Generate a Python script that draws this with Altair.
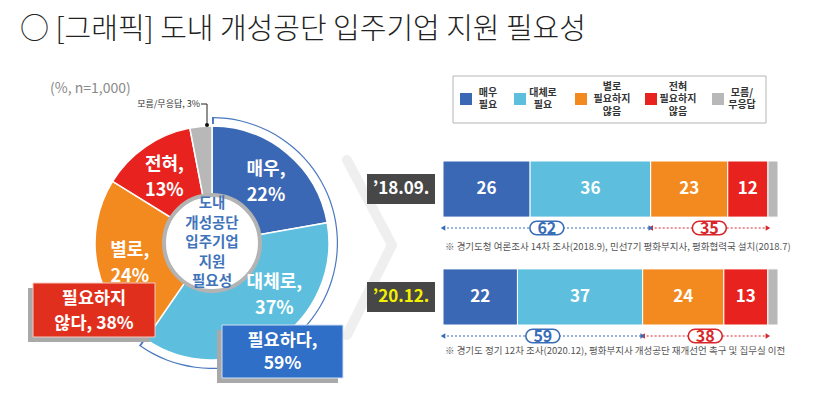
import altair as alt
import pandas as pd
import math

FONT = "Noto Sans CJK KR"

title_text = "○ [그래픽] 도내 개성공단 입주기업 지원 필요성"
sample_note = "(%, n=1,000)"
center_text = "도내\n개성공단\n입주기업\n지원\n필요성"

# donut (2020.12)
donut_cats = ["매우", "대체로", "별로", "전혀", "모름/무응답"]
donut_vals = [22, 37, 24, 13, 3]
need_total = 59
noneed_total = 38

# bars
periods = ["’18.09.", "’20.12."]
bar_cats = ["매우 필요", "대체로 필요", "별로 필요하지 않음", "전혀 필요하지 않음", "모름/무응답"]
vals_1809 = [26, 36, 23, 12, 3]
vals_2012 = [22, 37, 24, 13, 3]
need_sums = [62, 59]
noneed_sums = [35, 38]
legend_labels = ["매우\n필요", "대체로\n필요", "별로\n필요하지\n않음", "전혀\n필요하지\n않음", "모름/\n무응답"]
notes = [
    "※ 경기도청 여론조사 14차 조사(2018.9), 민선7기 평화부지사, 평화협력국 설치(2018.7)",
    "※ 경기도 정기 12차 조사(2020.12), 평화부지사 개성공단 재개선언 촉구 및 집무실 이전",
]

colors = ["#3b68b4", "#5dbfdd", "#f28a20", "#e8231f", "#b8b8b8"]
BLUE = "#3a6db8"
RED = "#d8262a"

# ---------- tables ----------
dtotal = sum(donut_vals)
rows = []
acc = 0
for i, (c, v) in enumerate(zip(donut_cats, donut_vals)):
    rows.append(dict(cat=c, val=v, start=acc, end=acc + v, mid=acc + v / 2,
                     label=f"{c},\n{v}%", i=i))
    acc += v
donut_df = pd.DataFrame(rows)
label_main = donut_df[donut_df["cat"].isin(["매우", "별로", "전혀"])]
label_side = donut_df[donut_df["cat"] == "대체로"]
gray_df = donut_df[donut_df["cat"] == "모름/무응답"].assign(txt=lambda d: d["cat"] + ", " + d["val"].astype(str) + "%")
span_df = pd.DataFrame({"s": [0], "e": [need_total]})
tick_df = pd.DataFrame({"s": [0, need_total]})

brows = []
arows = []
for p, vals, ns, nn in zip(periods, [vals_1809, vals_2012], need_sums, noneed_sums):
    t = sum(vals)
    a = 0
    ends = []
    for c, v in zip(bar_cats, vals):
        brows.append(dict(period=p, cat=c, val=v, start=a / t, end=(a + v) / t, mid=(a + v / 2) / t))
        a += v
        ends.append(a / t)
    arows.append(dict(period=p, kind="need", s=0.0, e=ends[1], mid=ends[1] / 2, num=ns))
    arows.append(dict(period=p, kind="noneed", s=ends[1], e=ends[3], mid=(ends[1] + ends[3]) / 2, num=nn))
bar_df = pd.DataFrame(brows)
arrow_df = pd.DataFrame(arows)
period_df = pd.DataFrame({"period": periods, "note": notes})
legend_df = pd.DataFrame({"cat": bar_cats, "lab": legend_labels, "i": list(range(len(bar_cats)))})
legend_df["nl"] = legend_df["lab"].str.count("\n") + 1
one = pd.DataFrame({"a": [0]})

CX, CY = 212, 243
theta_scale = alt.Scale(domain=[0, dtotal], range=[0, 2 * math.pi])
col_donut = alt.Color("cat:N", scale=alt.Scale(domain=donut_cats, range=colors), legend=None)
col_bar = alt.Color("cat:N", scale=alt.Scale(domain=bar_cats, range=colors), legend=None)
xbar = alt.Scale(domain=[0, 1], range=[443, 778])
yband = alt.Scale(domain=periods, range=[161, 325], paddingInner=0.48, paddingOuter=0)
ycenter = alt.Scale(domain=periods, range=[189, 297], type="point", padding=0)
yarrow = alt.Scale(domain=periods, range=[228, 336], type="point", padding=0)
ynote = alt.Scale(domain=periods, range=[247, 351], type="point", padding=0)
kind_col = alt.Scale(domain=["need", "noneed"], range=[BLUE, RED])

layers = []

# title
layers.append(alt.Chart(one).mark_text(text=title_text, font=FONT, fontSize=29, fontWeight=300, align="left",
                                        baseline="middle", color="#222").encode(x=alt.value(20), y=alt.value(30)))
# chevron decoration
for (x1, y1, x2, y2) in [(347, 160, 392, 245), (392, 245, 347, 335)]:
    layers.append(alt.Chart(one).mark_rule(color="#efefef", strokeWidth=10, strokeCap="round").encode(
        x=alt.value(x1), y=alt.value(y1), x2=alt.value(x2), y2=alt.value(y2)))
# sample note
layers.append(alt.Chart(one).mark_text(text=sample_note, font=FONT, fontSize=14, align="left",
                                        baseline="middle", color="#8a8a8a").encode(x=alt.value(50), y=alt.value(89)))

# donut
layers.append(alt.Chart(donut_df).mark_arc(radius=117, radius2=46, stroke="white", strokeWidth=1.5).encode(
    theta=alt.Theta("start:Q", scale=theta_scale), theta2="end:Q", color=col_donut,
    order=alt.Order("i:Q"), x=alt.value(CX), y=alt.value(CY)))
# outer span arc + end ticks
layers.append(alt.Chart(span_df).mark_arc(radius=126, radius2=124.8, color="#4a78c0").encode(
    theta=alt.Theta("s:Q", scale=theta_scale), theta2="e:Q", x=alt.value(CX), y=alt.value(CY)))
layers.append(alt.Chart(tick_df).mark_arc(radius=126, radius2=119, color="#4a78c0").encode(
    theta=alt.Theta("s:Q", scale=theta_scale), theta2=alt.Theta2("s2:Q"),
    x=alt.value(CX), y=alt.value(CY)).transform_calculate(s2="datum.s + 0.25"))
# center circle
layers.append(alt.Chart(one).mark_point(shape="circle", size=96 * 96, filled=True, fill="white",
                                         stroke="#b3b3b3", strokeWidth=4, opacity=1).encode(
    x=alt.value(CX), y=alt.value(CY)))
layers.append(alt.Chart(one).mark_text(text=center_text, lineBreak="\n", lineHeight=19.5, font=FONT,
                                        fontSize=14.5, fontWeight="bold", color="#3f74bb", align="center",
                                        baseline="middle", dy=-39).encode(x=alt.value(CX), y=alt.value(CY)))
# slice labels
layers.append(alt.Chart(label_main).mark_text(lineBreak="\n", lineHeight=26, font=FONT, fontSize=18,
                                               fontWeight="bold", color="white", align="center",
                                               baseline="middle", dy=-9).encode(
    theta=alt.Theta("mid:Q", scale=theta_scale), radius=alt.value(84), text="label:N",
    x=alt.value(CX), y=alt.value(CY)))
layers.append(alt.Chart(label_side).mark_text(lineBreak="\n", lineHeight=26, font=FONT, fontSize=18,
                                               fontWeight="bold", color="white", align="center",
                                               baseline="middle", dy=-29, dx=18).encode(
    theta=alt.Theta("mid:Q", scale=theta_scale), radius=alt.value(82), text="label:N",
    x=alt.value(CX), y=alt.value(CY)))
# gray label with leader
layers.append(alt.Chart(gray_df).mark_text(font=FONT, fontSize=9, color="#333", align="right",
                                            baseline="middle").encode(
    text="txt:N", x=alt.value(200), y=alt.value(104)))
layers.append(alt.Chart(one).mark_rule(color="#222", strokeWidth=1).encode(
    x=alt.value(201), x2=alt.value(207), y=alt.value(104)))
layers.append(alt.Chart(one).mark_rule(color="#222", strokeWidth=1).encode(
    x=alt.value(207), y=alt.value(104), y2=alt.value(125)))
layers.append(alt.Chart(one).mark_point(shape="circle", size=16, filled=True, color="#111", opacity=1).encode(
    x=alt.value(207), y=alt.value(125)))

# summary boxes
def box(x1, x2, y1, y2, fill, edge, txt, lh):
    out = []
    out.append(alt.Chart(one).mark_rect(color="#a9a9a9").encode(
        x=alt.value(x1 - 5), x2=alt.value(x2 - 5), y=alt.value(y1 + 5), y2=alt.value(y2 + 5)))
    out.append(alt.Chart(one).mark_rect(color=fill, stroke=edge, strokeWidth=1).encode(
        x=alt.value(x1), x2=alt.value(x2), y=alt.value(y1), y2=alt.value(y2)))
    out.append(alt.Chart(one).mark_text(text=txt, lineBreak="\n", lineHeight=lh, font=FONT, fontSize=17.5,
                                        fontWeight="bold", color="white", align="center",
                                        baseline="middle", dy=-lh / 2).encode(
        x=alt.value((x1 + x2) / 2), y=alt.value((y1 + y2) / 2 + 1)))
    return out

layers += box(33, 155, 283, 337, "#e0301d", "#f3c9c0", f"필요하지\n않다, {noneed_total}%", 25)
layers += box(222, 343, 325, 378, "#2f6fc7", "#cfe0f5", f"필요하다,\n{need_total}%", 23)

# legend
layers.append(alt.Chart(one).mark_rect(fill="white", stroke="#b5b5b5", strokeWidth=1).encode(
    x=alt.value(453), x2=alt.value(766), y=alt.value(76), y2=alt.value(123)))
layers.append(alt.Chart(legend_df).mark_square(size=144, opacity=1).encode(
    x=alt.X("i:Q", scale=alt.Scale(domain=[0, 1, 2, 3, 4], range=[466, 520, 581, 651, 718]), axis=None),
    y=alt.value(99), color=col_bar))
for nl in [2, 3]:
    layers.append(alt.Chart(legend_df[legend_df["nl"] == nl]).mark_text(
        lineBreak="\n", lineHeight=12.5, font=FONT, fontSize=10, fontWeight="bold", color="#333",
        align="center", baseline="middle", dy=-(nl - 1) * 6.25).encode(
        x=alt.X("i:Q", scale=alt.Scale(domain=[0, 1, 2, 3, 4], range=[488, 543, 612, 678, 742]), axis=None),
        y=alt.value(99), text="lab:N"))

# bars
layers.append(alt.Chart(bar_df).mark_bar(stroke="white", strokeWidth=1).encode(
    x=alt.X("start:Q", scale=xbar, axis=None), x2="end:Q",
    y=alt.Y("period:N", scale=yband, axis=None), color=col_bar))
layers.append(alt.Chart(bar_df[bar_df["cat"] != "모름/무응답"]).mark_text(
    font=FONT, fontSize=17, fontWeight="bold", color="white", align="center", baseline="middle").encode(
    x=alt.X("mid:Q", scale=xbar, axis=None), y=alt.Y("period:N", scale=ycenter, axis=None),
    text="val:Q"))

# period tags
layers.append(alt.Chart(period_df).mark_point(shape="M-1,-0.44H1V0.44H-1Z", size=68 * 68, filled=True,
                                               color="#474747", opacity=1).encode(
    x=alt.value(401), y=alt.Y("period:N", scale=ycenter, axis=None)))
layers.append(alt.Chart(period_df).mark_text(font=FONT, fontSize=17, fontWeight="bold", align="center",
                                              baseline="middle").encode(
    x=alt.value(401), y=alt.Y("period:N", scale=ycenter, axis=None), text="period:N",
    color=alt.Color("period:N", scale=alt.Scale(domain=periods, range=["white", "#f4f100"]), legend=None)))

# arrows
layers.append(alt.Chart(arrow_df).mark_rule(strokeDash=[2, 2], strokeWidth=1.2).encode(
    x=alt.X("s:Q", scale=xbar, axis=None), x2="e:Q", y=alt.Y("period:N", scale=yarrow, axis=None),
    color=alt.Color("kind:N", scale=kind_col, legend=None)))
layers.append(alt.Chart(arrow_df).mark_point(shape="triangle-left", size=28, filled=True, opacity=1).encode(
    x=alt.X("s:Q", scale=xbar, axis=None), y=alt.Y("period:N", scale=yarrow, axis=None),
    color=alt.Color("kind:N", scale=kind_col, legend=None)))
layers.append(alt.Chart(arrow_df).mark_point(shape="triangle-right", size=28, filled=True, opacity=1).encode(
    x=alt.X("e:Q", scale=xbar, axis=None), y=alt.Y("period:N", scale=yarrow, axis=None),
    color=alt.Color("kind:N", scale=kind_col, legend=None)))
layers.append(alt.Chart(arrow_df).mark_point(
    shape="M-0.6,-0.4H0.6A0.4,0.4 0 0 1 0.6,0.4H-0.6A0.4,0.4 0 0 1 -0.6,-0.4Z",
    size=34 * 34, filled=False, fill="white", strokeWidth=1.6, opacity=1).encode(
    x=alt.X("mid:Q", scale=xbar, axis=None), y=alt.Y("period:N", scale=yarrow, axis=None),
    stroke=alt.Stroke("kind:N", scale=kind_col, legend=None)))
layers.append(alt.Chart(arrow_df).mark_text(font=FONT, fontSize=16, fontWeight="bold", align="center",
                                             baseline="middle", dy=1).encode(
    x=alt.X("mid:Q", scale=xbar, axis=None), y=alt.Y("period:N", scale=yarrow, axis=None),
    text="num:Q", color=alt.Color("kind:N", scale=kind_col, legend=None)))

# notes
layers.append(alt.Chart(period_df).mark_text(font=FONT, fontSize=9.5, color="#555", align="left",
                                              baseline="middle").encode(
    x=alt.value(445), y=alt.Y("period:N", scale=ynote, axis=None), text="note:N"))

chart = alt.layer(*layers).resolve_scale(
    x="independent", y="independent", theta="independent", color="independent", stroke="independent"
).properties(width=813, height=414, padding=0, autosize=alt.AutoSizeParams(type="none"),
             background="white").configure_view(stroke=None)

chart.save("out.html", embed_options={"renderer": "svg", "actions": False})
